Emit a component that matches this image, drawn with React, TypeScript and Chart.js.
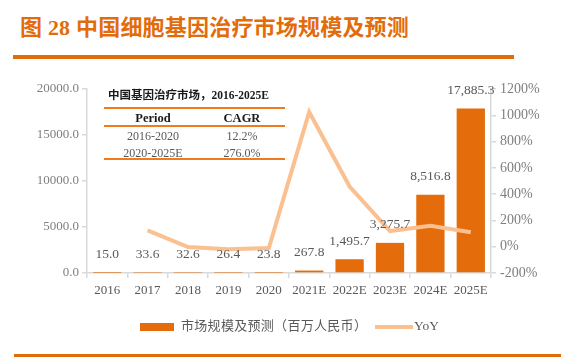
import React, { useEffect, useRef } from "react";
import { Chart, registerables } from "chart.js";

Chart.register(...registerables);

const categories = ["2016", "2017", "2018", "2019", "2020", "2021E", "2022E", "2023E", "2024E", "2025E"];
const marketSize = [15.0, 33.6, 32.6, 26.4, 23.8, 267.8, 1495.7, 3275.7, 8516.8, 17885.3];
const yoy = [null, 124, -3, -19, -10, 1025, 458, 119, 160, 110];
const cagrPeriods = ["2016-2020", "2020-2025E"];
const cagrValues = ["12.2%", "276.0%"];

const BAR_COLOR = "#E46C0A";
const LINE_COLOR = "#FAC090";
const ORANGE = "#E36C0A";
const SERIF = '"Liberation Serif", "Noto Sans CJK SC", serif';

const fmt = new Intl.NumberFormat("en-US", { minimumFractionDigits: 1, maximumFractionDigits: 1 });

export default function App() {
  const ref = useRef<HTMLCanvasElement | null>(null);
  useEffect(() => {
    if (!ref.current) return;
    const labelPlugin = {
      id: "barLabels",
      afterDatasetsDraw(chart: any) {
        const ctx = chart.ctx;
        const meta = chart.getDatasetMeta(1);
        ctx.save();
        ctx.font = "13.5px " + SERIF;
        ctx.fillStyle = "#595959";
        ctx.textAlign = "center";
        ctx.textBaseline = "middle";
        meta.data.forEach((el: any, i: number) => {
          ctx.fillText(fmt.format(marketSize[i]), el.x, el.y - 18);
        });
        ctx.restore();
      },
    };
    const chart = new Chart(ref.current, {
      type: "bar",
      data: {
        labels: categories,
        datasets: [
          {
            type: "line",
            label: "YoY",
            data: yoy as any,
            yAxisID: "y1",
            borderColor: LINE_COLOR,
            backgroundColor: LINE_COLOR,
            borderWidth: 4,
            pointRadius: 0,
            tension: 0,
            order: 0,
          } as any,
          {
            type: "bar",
            label: "市场规模及预测（百万人民币）",
            data: marketSize,
            yAxisID: "y",
            backgroundColor: BAR_COLOR,
            barPercentage: 0.7,
            categoryPercentage: 1,
            order: 1,
          },
        ],
      },
      options: {
        responsive: false,
        animation: false,
        devicePixelRatio: 1,
        layout: { padding: { top: 89, left: 0, right: 0, bottom: 0 } },
        plugins: { legend: { display: false }, tooltip: { enabled: false } },
        scales: {
          x: {
            grid: { display: true, drawOnChartArea: false, drawTicks: true, tickLength: 5, color: "#d9d9d9", lineWidth: 1.5 },
            border: { display: true, color: "#d9d9d9", width: 1.5 },
            ticks: { color: "#595959", font: { family: SERIF, size: 13 }, padding: 5, maxRotation: 0, autoSkip: false },
            afterFit: (s: any) => { s.height = 84; },
          },
          y: {
            position: "left",
            min: 0,
            max: 20000,
            ticks: { stepSize: 5000, color: "#7f7f7f", font: { family: SERIF, size: 13 }, padding: 3, callback: (v: any) => Number(v).toFixed(1) },
            grid: { display: true, drawOnChartArea: false, tickLength: 5, color: "#d9d9d9", lineWidth: 1.5 },
            border: { display: true, color: "#d9d9d9", width: 1.5 },
            afterFit: (s: any) => { s.width = 87; },
          },
          y1: {
            position: "right",
            min: -200,
            max: 1200,
            ticks: { stepSize: 200, color: "#7f7f7f", font: { family: SERIF, size: 14 }, padding: 4, callback: (v: any) => v + "%" },
            grid: { display: true, drawOnChartArea: false, tickLength: 5, color: "#d9d9d9", lineWidth: 1.5 },
            border: { display: true, color: "#d9d9d9", width: 1.5 },
            afterFit: (s: any) => { s.width = 79; },
          },
        },
      },
      plugins: [labelPlugin],
    });
    return () => chart.destroy();
  }, []);

  const abs = (o: React.CSSProperties): React.CSSProperties => ({ position: "absolute", ...o });

  return (
    <div style={{ position: "absolute", left: 0, top: 0, width: 570, height: 357, background: "#fff", overflow: "hidden" }}>
      <div style={abs({ left: 20, top: 13, fontFamily: SERIF, fontWeight: "bold", fontSize: 22, letterSpacing: 0.2, color: ORANGE, whiteSpace: "nowrap", lineHeight: "30px" })}>
        图 28 中国细胞基因治疗市场规模及预测
      </div>
      <div style={abs({ left: 13, top: 55, width: 501, height: 3.5, background: ORANGE })} />
      <canvas ref={ref} width={570} height={357} style={abs({ left: 0, top: 0, width: 570, height: 357 })} />
      {/* inset table */}
      <div style={abs({ left: 108, top: 87, fontFamily: SERIF, fontWeight: "bold", fontSize: 11.5, color: "#1a1a1a", whiteSpace: "nowrap", lineHeight: "16px" })}>
        中国基因治疗市场，2016-2025E
      </div>
      <div style={abs({ left: 104, top: 107, width: 181, height: 2, background: "#F07B1E" })} />
      <div style={abs({ left: 104, top: 125, width: 181, height: 2, background: "#F07B1E" })} />
      <div style={abs({ left: 104, top: 158, width: 181, height: 2, background: "#F07B1E" })} />
      <div style={abs({ left: 113, width: 80, top: 110, textAlign: "center", fontFamily: SERIF, fontWeight: "bold", fontSize: 12.5, color: "#1a1a1a", lineHeight: "16px" })}>Period</div>
      <div style={abs({ left: 202, width: 80, top: 110, textAlign: "center", fontFamily: SERIF, fontWeight: "bold", fontSize: 12.5, color: "#1a1a1a", lineHeight: "16px" })}>CAGR</div>
      {cagrPeriods.map((p, i) => (
        <React.Fragment key={p}>
          <div style={abs({ left: 113, width: 80, top: 128 + i * 17, textAlign: "center", fontFamily: SERIF, fontSize: 12, color: "#595959", lineHeight: "16px" })}>{p}</div>
          <div style={abs({ left: 202, width: 80, top: 128 + i * 17, textAlign: "center", fontFamily: SERIF, fontSize: 12, color: "#595959", lineHeight: "16px" })}>{cagrValues[i]}</div>
        </React.Fragment>
      ))}
      {/* legend */}
      <div style={abs({ left: 140, top: 322.5, width: 34, height: 8, background: BAR_COLOR })} />
      <div style={abs({ left: 181, top: 317, fontFamily: SERIF, fontSize: 13, letterSpacing: 0.3, color: "#595959", whiteSpace: "nowrap", lineHeight: "18px" })}>市场规模及预测（百万人民币）</div>
      <div style={abs({ left: 375, top: 324.5, width: 38, height: 4, background: LINE_COLOR })} />
      <div style={abs({ left: 414, top: 317, fontFamily: SERIF, fontSize: 13.5, color: "#595959", whiteSpace: "nowrap", lineHeight: "18px" })}>YoY</div>
      <div style={abs({ left: 14, top: 354, width: 547, height: 3, background: ORANGE })} />
    </div>
  );
}
